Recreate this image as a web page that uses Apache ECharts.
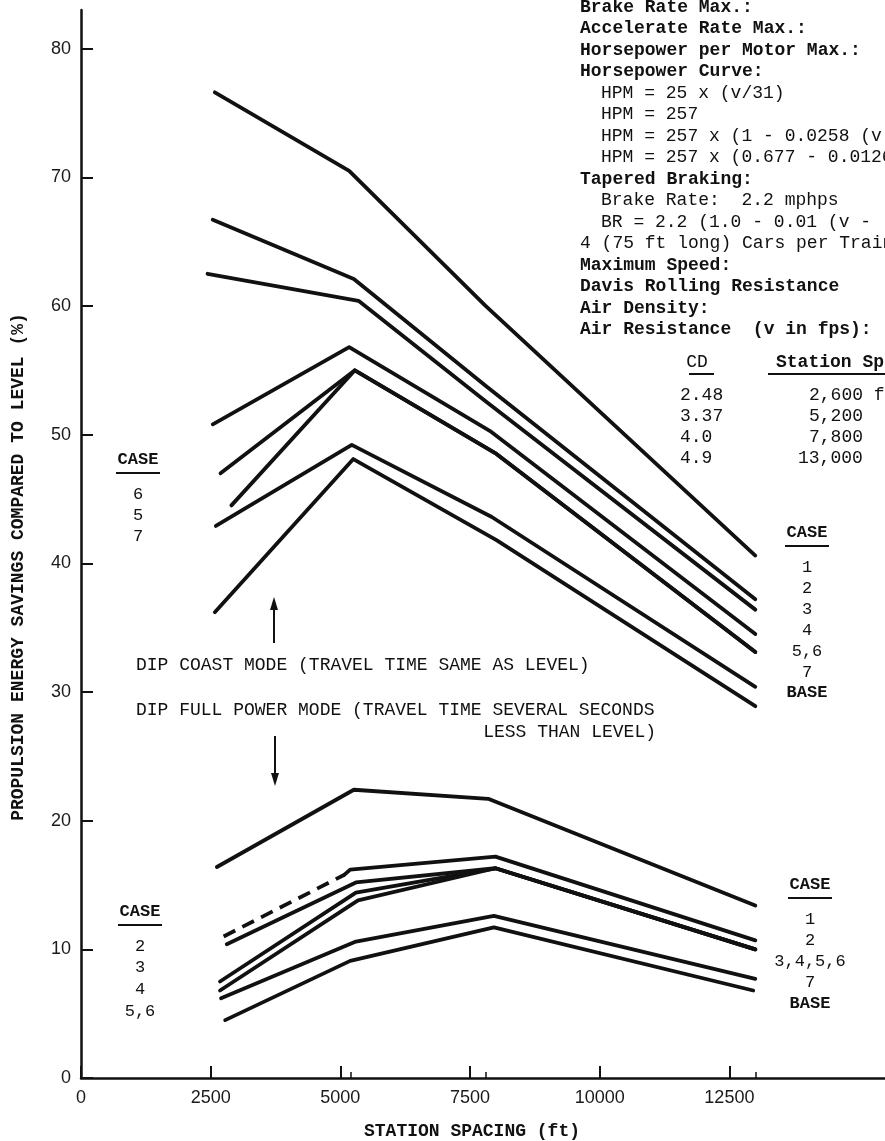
<!DOCTYPE html>
<html>
<head>
<meta charset="utf-8">
<script src="https://cdn.jsdelivr.net/npm/echarts@6/dist/echarts.min.js"></script>
<style>
  html, body { margin: 0; padding: 0; background: #fff; }
  #chart { width: 885px; height: 1141px; }
</style>
</head>
<body>
<div id="chart"></div>
<script>
// station spacing (ft) against propulsion energy savings compared to level (%)
var xTickValues = [0, 2500, 5000, 7500, 10000, 12500];
var stationTickValues = [5200, 7800, 13000];
var yTickValues = [0, 10, 20, 30, 40, 50, 60, 70, 80];

// dip coast mode (upper bundle)
var coastCase1 = [[2580, 76.6], [5170, 70.5], [7800, 60.0], [13000, 40.6]];
var coastCase2 = [[2540, 66.7], [5260, 62.1], [7800, 53.8], [13000, 37.2]];
var coastCase3 = [[2440, 62.5], [5350, 60.4], [7800, 52.6], [13000, 36.4]];
var coastCase4 = [[2540, 50.8], [5170, 56.8], [7880, 50.3], [13000, 34.5]];
var coastCase6 = [[2690, 47.0], [5280, 55.0], [8010, 48.5], [13000, 33.1]];
var coastCase5 = [[2900, 44.5], [5280, 55.0], [8010, 48.5], [13000, 33.1]];
var coastCase7 = [[2600, 42.9], [5220, 49.2], [7920, 43.6], [13000, 30.4]];
var coastBase  = [[2580, 36.2], [5250, 48.1], [8010, 41.8], [13000, 28.9]];

// dip full power mode (lower bundle)
var powerCase1     = [[2620, 16.4], [5260, 22.4], [7850, 21.7], [13000, 13.4]];
var powerCase2Dash = [[2750, 11.0], [5080, 15.8]];
var powerCase2     = [[5080, 15.8], [5190, 16.2], [7990, 17.2], [13000, 10.7]];
var powerCase3     = [[2810, 10.4], [5300, 15.2], [7990, 16.3], [13000, 10.0]];
var powerCase4     = [[2680, 7.5], [5300, 14.4], [7990, 16.3], [13000, 10.0]];
var powerCase56    = [[2680, 6.8], [5340, 13.8], [7990, 16.3], [13000, 10.0]];
var powerCase7     = [[2700, 6.2], [5300, 10.6], [7960, 12.6], [13000, 7.7]];
var powerBase      = [[2780, 4.5], [5190, 9.1], [7960, 11.7], [12960, 6.8]];

var ink = '#111111';
var mono = '"Liberation Mono", "DejaVu Sans Mono", monospace';
var sans = '"Liberation Sans", Arial, sans-serif';

function curve(name, data, dashed) {
  return {
    name: name,
    type: 'line',
    data: data,
    symbol: 'none',
    silent: true,
    animation: false,
    lineStyle: {
      color: ink,
      width: 3.8,
      cap: dashed ? 'butt' : 'round',
      join: 'round',
      type: dashed ? [13, 8] : 'solid'
    }
  };
}

function txt(text, x, y, opts) {
  opts = opts || {};
  return {
    type: 'text',
    x: x,
    y: y,
    rotation: opts.rotation || 0,
    silent: true,
    style: {
      text: text,
      fill: ink,
      font: (opts.bold ? 'bold ' : '') + (opts.size || 18) + 'px ' + (opts.family || mono),
      align: opts.align || 'left',
      verticalAlign: 'middle'
    }
  };
}

function rule(x1, x2, y) {
  return {
    type: 'line',
    silent: true,
    shape: { x1: x1, y1: y, x2: x2, y2: y },
    style: { stroke: ink, lineWidth: 2 }
  };
}

function arrow(x, yFrom, yTo) {
  var dir = yTo > yFrom ? 1 : -1;
  return [
    {
      type: 'line', silent: true,
      shape: { x1: x, y1: yFrom, x2: x, y2: yTo - dir * 10 },
      style: { stroke: ink, lineWidth: 2 }
    },
    {
      type: 'polygon', silent: true,
      shape: { points: [[x, yTo], [x - 4, yTo - dir * 13], [x + 4, yTo - dir * 13]] },
      style: { fill: ink }
    }
  ];
}

// conditions listed top right (cut off by the page edge)
var specText = [
  ['Brake Rate Max.:', 580, true],
  ['Accelerate Rate Max.:', 580, true],
  ['Horsepower per Motor Max.:', 580, true],
  ['Horsepower Curve:', 580, true],
  ['HPM = 25 x (v/31)', 601, false],
  ['HPM = 257', 601, false],
  ['HPM = 257 x (1 - 0.0258 (v', 601, false],
  ['HPM = 257 x (0.677 - 0.0126', 601, false],
  ['Tapered Braking:', 580, true],
  ['Brake Rate:  2.2 mphps', 601, false],
  ['BR = 2.2 (1.0 - 0.01 (v -', 601, false],
  ['4 (75 ft long) Cars per Train', 580, false],
  ['Maximum Speed:', 580, true],
  ['Davis Rolling Resistance', 580, true],
  ['Air Density:', 580, true],
  ['Air Resistance  (v in fps):', 580, true]
];

var cdValues = ['2.48', '3.37', '4.0', '4.9'];
var spacingValues = ['2,600 ft', '5,200', '7,800', '13,000'];

var graphics = [];
specText.forEach(function (s, i) {
  graphics.push(txt(s[0], s[1], 7 + i * 21.5, { bold: s[2] }));
});
graphics.push(txt('CD', 697, 362, { align: 'center' }));
graphics.push(rule(689, 714, 374));
graphics.push(txt('Station Spacing', 776, 362, { bold: true }));
graphics.push(rule(768, 885, 374));
cdValues.forEach(function (v, i) {
  graphics.push(txt(v, 680, 395 + i * 21, {}));
});
spacingValues.forEach(function (v, i) {
  graphics.push(txt(v, v.length === 6 ? 798 : 809, 395 + i * 21, {}));
});

// case keys
function caseKey(cx, yHead, items, gap) {
  graphics.push(txt('CASE', cx, yHead, { align: 'center', size: 17, bold: true }));
  graphics.push(rule(cx - 22, cx + 22, yHead + 13));
  items.forEach(function (t, i) {
    graphics.push(txt(t, cx, yHead + 34 + i * gap, { align: 'center', size: 17, bold: t === 'BASE' }));
  });
}
caseKey(138, 460, ['6', '5', '7'], 21);
caseKey(140, 912, ['2', '3', '4', '5,6'], 21.7);
caseKey(807, 533, ['1', '2', '3', '4', '5,6', '7', 'BASE'], 21);
caseKey(810, 885, ['1', '2', '3,4,5,6', '7', 'BASE'], 21.3);

// mode notes and arrows
graphics.push(txt('DIP COAST MODE (TRAVEL TIME SAME AS LEVEL)', 136, 665, {}));
graphics.push(txt('DIP FULL POWER MODE (TRAVEL TIME SEVERAL SECONDS', 136, 710, {}));
graphics.push(txt('LESS THAN LEVEL)', 656, 732, { align: 'right' }));
graphics = graphics.concat(arrow(274, 643, 597));
graphics = graphics.concat(arrow(275, 736, 786));

// axis titles
graphics.push(txt('STATION SPACING (ft)', 472, 1131, { align: 'center', bold: true }));
graphics.push(txt('PROPULSION ENERGY SAVINGS COMPARED TO LEVEL (%)', 18, 567,
  { align: 'center', bold: true, rotation: Math.PI / 2 }));

function plainNumber(v) {
  return String(v);
}

var option = {
  backgroundColor: '#ffffff',
  animation: false,
  grid: { left: 81, right: 0, top: 10, bottom: 63, containLabel: false },
  xAxis: [
    {
      type: 'value',
      min: 0,
      max: 15500,
      position: 'bottom',
      axisLine: { show: true, lineStyle: { color: ink, width: 2.5 } },
      axisTick: { show: true, inside: true, length: 12, customValues: xTickValues,
                  lineStyle: { color: ink, width: 2 } },
      axisLabel: { customValues: xTickValues, formatter: plainNumber, color: '#1a1a1a',
                   fontSize: 18, fontFamily: sans, margin: 11 },
      splitLine: { show: false }
    },
    {
      type: 'value',
      min: 0,
      max: 15500,
      position: 'bottom',
      axisLine: { show: false },
      axisTick: { show: true, inside: true, length: 6, customValues: stationTickValues,
                  lineStyle: { color: ink, width: 1.5 } },
      axisLabel: { show: false },
      splitLine: { show: false }
    }
  ],
  yAxis: {
    type: 'value',
    min: 0,
    max: 83,
    axisLine: { show: true, lineStyle: { color: ink, width: 2.5 } },
    axisTick: { show: true, inside: true, length: 12, customValues: yTickValues,
                lineStyle: { color: ink, width: 2 } },
    axisLabel: { customValues: yTickValues, formatter: plainNumber, color: '#1a1a1a',
                 fontSize: 18, fontFamily: sans, margin: 10 },
    splitLine: { show: false }
  },
  series: [
    curve('Coast case 1', coastCase1),
    curve('Coast case 2', coastCase2),
    curve('Coast case 3', coastCase3),
    curve('Coast case 4', coastCase4),
    curve('Coast case 6', coastCase6),
    curve('Coast case 5', coastCase5),
    curve('Coast case 7', coastCase7),
    curve('Coast base', coastBase),
    curve('Full power case 1', powerCase1),
    curve('Full power case 2 (dashed)', powerCase2Dash, true),
    curve('Full power case 2', powerCase2),
    curve('Full power case 3', powerCase3),
    curve('Full power case 4', powerCase4),
    curve('Full power case 5,6', powerCase56),
    curve('Full power case 7', powerCase7),
    curve('Full power base', powerBase)
  ],
  graphic: graphics
};

var chart = echarts.init(document.getElementById('chart'));
chart.setOption(option);

window.addEventListener('resize', function () {
  chart.resize();
});
</script>
</body>
</html>
